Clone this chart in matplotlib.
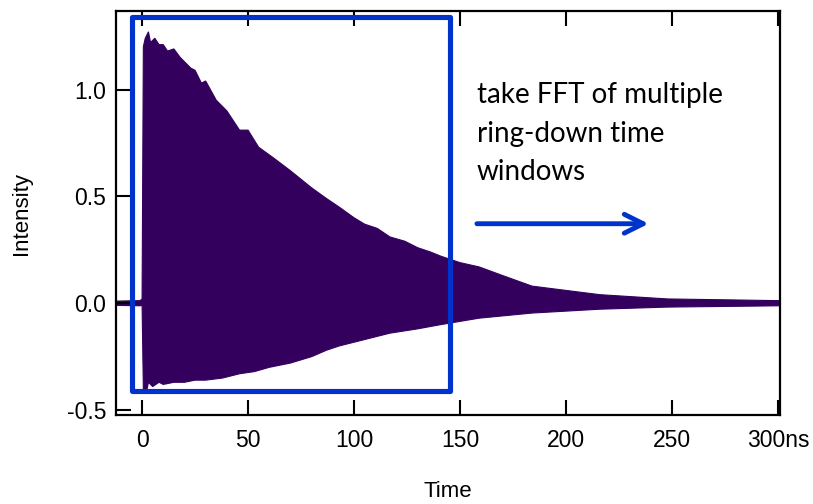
import numpy as np
import matplotlib
matplotlib.use('Agg')
from matplotlib import pyplot as plt
from matplotlib.patches import Rectangle

# envelope of the ring-down signal (time in ns)
t_upper = [-12, -1, 0, 0.6, 1.5, 3, 4, 6, 8, 10, 12, 15, 18, 20, 23, 25, 28, 30,
           35, 40, 46, 50, 55, 62, 70, 75, 80, 87, 93, 100, 105, 111, 117, 124,
           130, 136, 141, 150, 159, 170, 184, 200, 216, 232, 248, 275, 301]
upper = [0.01, 0.012, 0.02, 1.20, 1.24, 1.27, 1.22, 1.24, 1.21, 1.21, 1.18, 1.19,
         1.15, 1.13, 1.10, 1.09, 1.03, 1.04, 0.95, 0.90, 0.81, 0.81, 0.73, 0.68,
         0.62, 0.58, 0.54, 0.49, 0.45, 0.40, 0.37, 0.35, 0.31, 0.29, 0.26, 0.24,
         0.22, 0.19, 0.17, 0.13, 0.08, 0.06, 0.04, 0.03, 0.02, 0.016, 0.012]

t_lower = [-12, -1, 0, 0.6, 2, 3, 5, 8, 10, 15, 20, 25, 30, 38, 46, 53, 60, 70,
           80, 87, 93, 105, 117, 130, 141, 159, 184, 216, 248, 275, 301]
lower = [-0.01, -0.012, -0.01, -0.40, -0.42, -0.37, -0.39, -0.37, -0.38, -0.37,
         -0.37, -0.36, -0.36, -0.35, -0.33, -0.32, -0.30, -0.28, -0.25, -0.22,
         -0.20, -0.17, -0.14, -0.12, -0.10, -0.07, -0.046, -0.028, -0.018,
         -0.015, -0.012]

x_ticks = [0, 50, 100, 150, 200, 250, 300]
x_ticklabels = ['0', '50', '100', '150', '200', '250', '300ns']
y_ticks = [-0.5, 0.0, 0.5, 1.0]
y_ticklabels = ['-0.5', '0.0', '0.5', '1.0']

# time window box and arrow
window = (-4.9, 145.3, -0.41, 1.337)
arrow_t = (158, 239)
arrow_y = 0.372

signal_color = '#34005e'
blue = '#0033cc'

plt.rcParams['font.family'] = ['Liberation Sans', 'DejaVu Sans']

fig = plt.figure(figsize=(8.13, 5.04), dpi=100)
ax = fig.add_axes([0.1427, 0.1766, 0.8167, 0.8014])

poly_t = list(t_upper) + list(t_lower[::-1])
poly_y = list(upper) + list(lower[::-1])
ax.fill(poly_t, poly_y, color=signal_color, lw=0.8, ec=signal_color)

ax.set_xlim(-12.3, 301)
ax.set_ylim(-0.523, 1.367)

ax.set_xticks(x_ticks)
ax.set_xticklabels(x_ticklabels)
ax.set_yticks(y_ticks)
ax.set_yticklabels(y_ticklabels)
ax.tick_params(axis='both', direction='in', length=11, width=1.5, labelsize=16.5,
               colors='black')
ax.tick_params(axis='x', top=True, pad=10)
ax.tick_params(axis='y', right=False, pad=7)
for s in ax.spines.values():
    s.set_linewidth(1.6)

ax.set_xlabel('Time', fontsize=16, va='center')
ax.set_ylabel('Intensity', fontsize=16, va='center')
ax.xaxis.set_label_coords(0.5, -0.19)
ax.yaxis.set_label_coords(-0.1416, 0.5)

x0, x1, y0, y1 = window
rect = Rectangle((x0, y0), x1 - x0, y1 - y0, fill=False, ec=blue, lw=3.7,
                 joinstyle='round', zorder=5)
ax.add_patch(rect)

ax.annotate('', xy=(arrow_t[1], arrow_y), xytext=(arrow_t[0], arrow_y),
            arrowprops=dict(arrowstyle='->', color=blue, lw=3.5,
                            mutation_scale=34, shrinkA=0, shrinkB=0))

ax.text(158, 1.035, 'take FFT of multiple\nring-down time\nwindows',
        fontsize=20, family=['Lato', 'DejaVu Sans'], va='top', ha='left',
        linespacing=1.6)

fig.savefig('out.png', dpi=100)
